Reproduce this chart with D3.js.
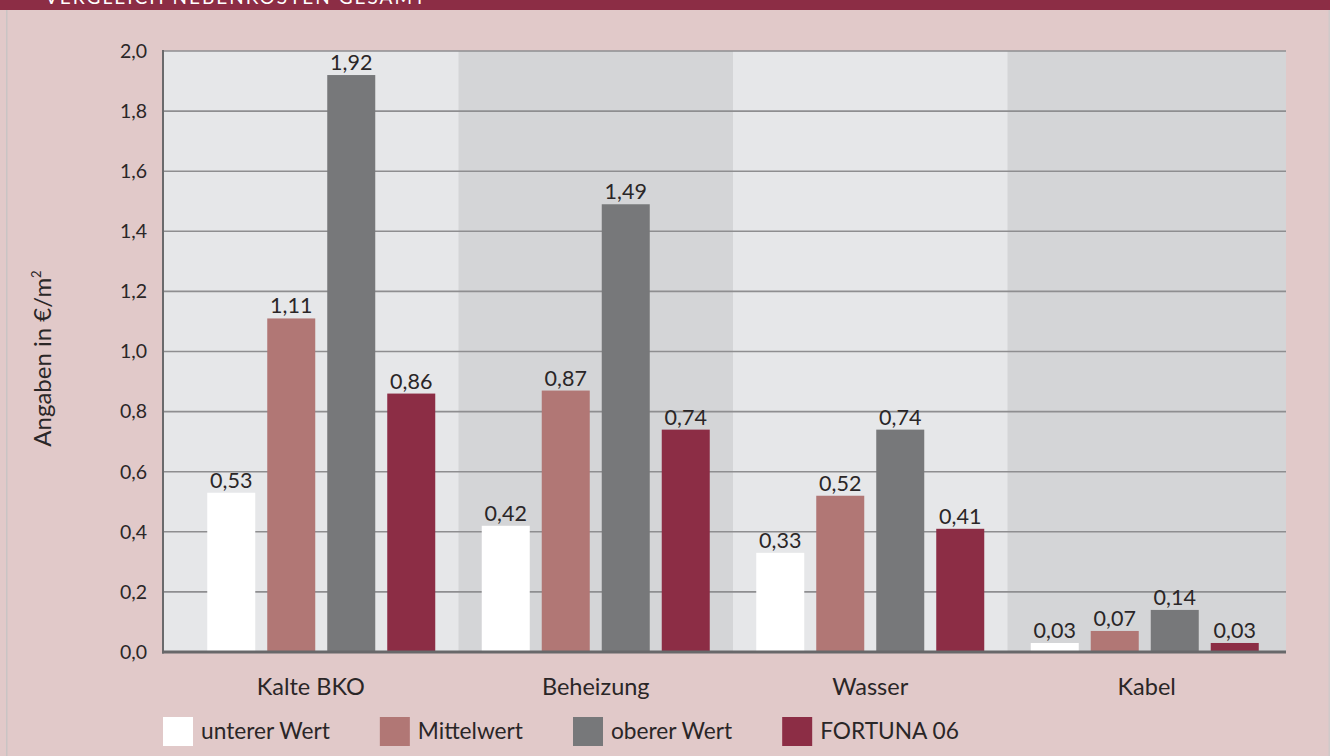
<!DOCTYPE html>
<html>
<head>
<meta charset="utf-8">
<script src="https://cdn.jsdelivr.net/npm/d3@7"></script>
<style>
  html, body { margin: 0; padding: 0; background: #ffffff; }
  svg { display: block; }
  text { font-family: Lato, "Open Sans", sans-serif; fill: #2a2627; }
</style>
</head>
<body>
<svg id="chart" width="1335" height="756"></svg>
<script>
// ---- data ----
const categories = ["Kalte BKO", "Beheizung", "Wasser", "Kabel"];
const seriesNames = ["unterer Wert", "Mittelwert", "oberer Wert", "FORTUNA 06"];
const unterWert   = [0.53, 0.42, 0.33, 0.03];
const mittelwert  = [1.11, 0.87, 0.52, 0.07];
const obererWert  = [1.92, 1.49, 0.74, 0.14];
const fortuna06   = [0.86, 0.74, 0.41, 0.03];
const yTicks = [0, 0.2, 0.4, 0.6, 0.8, 1.0, 1.2, 1.4, 1.6, 1.8, 2.0];
const title = "VERGLEICH NEBENKOSTEN GESAMT";
const yTitle = "Angaben in €/m";

const seriesValues = [unterWert, mittelwert, obererWert, fortuna06];
const colors = ["#ffffff", "#b17775", "#77787a", "#8c2d45"];

const svg = d3.select("#chart");
const W = 1335, H = 756;

// page frame
svg.append("rect").attr("x", 0).attr("y", 0).attr("width", 1330).attr("height", H).attr("fill", "#e1c9c9");
svg.append("rect").attr("x", 6).attr("y", 10).attr("width", 1.5).attr("height", H - 10).attr("fill", "#c9c4c4");
svg.append("rect").attr("x", 1328.5).attr("y", 10).attr("width", 1.5).attr("height", H - 10).attr("fill", "#cfcaca");
svg.append("rect").attr("x", 0).attr("y", 0).attr("width", 1330).attr("height", 10).attr("fill", "#8c2d45");
svg.append("text").attr("x", 45).attr("y", 4).attr("font-size", 19).attr("letter-spacing", 2)
  .style("fill", "#ffffff").text(title);

// plot geometry
const plotL = 163, plotR = 1286, plotT = 51, plotB = 652;

const y = d3.scaleLinear().domain([0, 2.0]).range([plotB, plotT]);
const x = d3.scaleBand().domain(categories).range([184, 1282]).paddingInner(0).paddingOuter(0);
const xs = d3.scaleBand().domain(seriesNames).range([0, x.bandwidth()]).paddingInner(0.2).paddingOuter(0.3875);

// plot background + alternating bands
svg.append("rect").attr("x", plotL).attr("y", plotT).attr("width", plotR - plotL).attr("height", plotB - plotT).attr("fill", "#e6e7e9");
const bandExtent = (c, i) => {
  const x0 = i === 0 ? plotL : x(c);
  const x1 = i === categories.length - 1 ? plotR : x(c) + x.bandwidth();
  return [x0, x1];
};
svg.append("g").selectAll("rect").data(categories).join("rect")
  .filter((d, i) => i % 2 === 1)
  .attr("x", d => x(d))
  .attr("y", plotT)
  .attr("width", d => { const i = categories.indexOf(d); const e = bandExtent(d, i); return e[1] - e[0]; })
  .attr("height", plotB - plotT)
  .attr("fill", "#d4d5d7");

// gridlines
svg.append("g").selectAll("line").data(yTicks.filter(t => t > 0)).join("line")
  .attr("x1", plotL).attr("x2", plotR)
  .attr("y1", d => y(d)).attr("y2", d => y(d))
  .attr("stroke", "#8e8e90").attr("stroke-width", 1.6);

// y tick labels
svg.append("g").selectAll("text").data(yTicks).join("text")
  .attr("x", 147).attr("y", d => y(d)).attr("dy", "0.35em")
  .attr("text-anchor", "end").attr("font-size", 19.5)
  .text(d => d3.format(".1f")(d).replace(".", ","));

// bars
const barData = [];
categories.forEach((c, ci) => seriesNames.forEach((s, si) => barData.push({ c, s, si, v: seriesValues[si][ci] })));
svg.append("g").selectAll("rect").data(barData).join("rect")
  .attr("x", d => x(d.c) + xs(d.s))
  .attr("y", d => y(d.v))
  .attr("width", xs.bandwidth())
  .attr("height", d => y(0) - y(d.v))
  .attr("fill", d => colors[d.si]);

// value labels
svg.append("g").selectAll("text").data(barData).join("text")
  .attr("x", d => x(d.c) + xs(d.s) + xs.bandwidth() / 2)
  .attr("y", d => y(d.v) - 5)
  .attr("text-anchor", "middle").attr("font-size", 21.5)
  .text(d => d3.format(".2f")(d.v).replace(".", ","));

// axes lines
svg.append("line").attr("x1", plotL).attr("x2", plotL).attr("y1", plotT - 1).attr("y2", plotB + 1.5)
  .attr("stroke", "#6a6a6c").attr("stroke-width", 2);
svg.append("line").attr("x1", plotL - 1).attr("x2", plotR).attr("y1", plotB).attr("y2", plotB)
  .attr("stroke", "#68686a").attr("stroke-width", 3);

// category labels
svg.append("g").selectAll("text").data(categories).join("text")
  .attr("x", (d, i) => { const e = bandExtent(d, i); return (e[0] + e[1]) / 2; })
  .attr("y", 695).attr("text-anchor", "middle").attr("font-size", 23.5)
  .text(d => d);

// y axis title
const yt = svg.append("text")
  .attr("transform", `translate(51, ${(plotT + plotB) / 2 + 7}) rotate(-90)`)
  .attr("text-anchor", "middle").attr("font-size", 24);
yt.append("tspan").text(yTitle);
yt.append("tspan").attr("font-size", 13).attr("dy", -10).text("2");

// legend
const leg = svg.append("g");
let lx = 163;
seriesNames.forEach((s, i) => {
  leg.append("rect").attr("x", lx).attr("y", 717).attr("width", 30).attr("height", 29).attr("fill", colors[i]);
  const t = leg.append("text").attr("x", lx + 38).attr("y", 739).attr("font-size", 22.7).text(s);
  lx += 38 + t.node().getComputedTextLength() + 50;
});
</script>
</body>
</html>
